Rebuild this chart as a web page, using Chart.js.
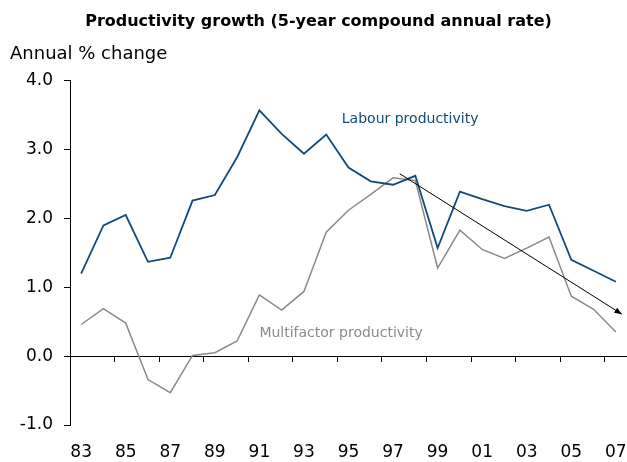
<!DOCTYPE html>
<html>
<head>
<meta charset="utf-8">
<script src="https://cdn.jsdelivr.net/npm/chart.js@4/dist/chart.umd.min.js"></script>
<style>
  html, body { margin: 0; padding: 0; background: #fff; }
  #wrap { width: 627px; height: 462px; }
</style>
</head>
<body>
<div id="wrap"><canvas id="c" width="627" height="462"></canvas></div>
<script>
const years = ['83','84','85','86','87','88','89','90','91','92','93','94','95','96','97','98','99','00','01','02','03','04','05','06','07'];
const labourProductivity = [1.20,1.90,2.05,1.37,1.43,2.26,2.34,2.89,3.57,3.23,2.94,3.22,2.74,2.54,2.49,2.62,1.57,2.39,2.28,2.18,2.11,2.20,1.40,1.24,1.08];
const multifactorProductivity = [0.46,0.69,0.48,-0.34,-0.53,0.01,0.05,0.22,0.89,0.67,0.94,1.80,2.12,2.35,2.59,2.55,1.28,1.83,1.55,1.42,1.57,1.73,0.87,0.68,0.35];
const yTicks = [-1, 0, 1, 2, 3, 4];
// annotation anchors in data units: [category index, value]
const arrowFrom = [14.3, 2.65];
const arrowTo = [24.27, 0.61];
const labourLabelAt = [11.7, 3.44];
const multiLabelAt = [8.0, 0.33];

const FONT = "'DejaVu Sans', Verdana, sans-serif";
const BLUE = '#134a7c';
const GREY = '#8a8a8a';

const annotations = {
  id: 'annotations',
  afterDatasetsDraw(chart) {
    const { ctx, scales } = chart;
    const x = scales.x, y = scales.y;
    ctx.save();
    const x1 = x.getPixelForValue(arrowFrom[0]), y1 = y.getPixelForValue(arrowFrom[1]);
    const x2 = x.getPixelForValue(arrowTo[0]), y2 = y.getPixelForValue(arrowTo[1]);
    ctx.strokeStyle = '#000';
    ctx.lineWidth = 1;
    ctx.beginPath();
    ctx.moveTo(x1, y1);
    ctx.lineTo(x2, y2);
    ctx.stroke();
    const ang = Math.atan2(y2 - y1, x2 - x1);
    const hl = 8, ha = 0.38;
    ctx.beginPath();
    ctx.moveTo(x2, y2);
    ctx.lineTo(x2 - hl * Math.cos(ang - ha), y2 - hl * Math.sin(ang - ha));
    ctx.lineTo(x2 - hl * Math.cos(ang + ha), y2 - hl * Math.sin(ang + ha));
    ctx.closePath();
    ctx.fillStyle = '#000';
    ctx.fill();
    ctx.font = '14px ' + FONT;
    ctx.textBaseline = 'middle';
    ctx.textAlign = 'left';
    ctx.fillStyle = BLUE;
    ctx.fillText('Labour productivity', x.getPixelForValue(labourLabelAt[0]), y.getPixelForValue(labourLabelAt[1]));
    ctx.fillStyle = GREY;
    ctx.fillText('Multifactor productivity', x.getPixelForValue(multiLabelAt[0]), y.getPixelForValue(multiLabelAt[1]));
    ctx.restore();
  }
};

new Chart(document.getElementById('c'), {
  type: 'line',
  data: {
    labels: years,
    datasets: [
      { label: 'Labour productivity', data: labourProductivity, borderColor: BLUE, borderWidth: 1.8, pointRadius: 0, tension: 0, fill: false },
      { label: 'Multifactor productivity', data: multifactorProductivity, borderColor: GREY, borderWidth: 1.5, pointRadius: 0, tension: 0, fill: false }
    ]
  },
  options: {
    responsive: false,
    animation: false,
    events: [],
    layout: { padding: { left: 10, right: 0, top: 10, bottom: 0 } },
    plugins: {
      legend: { display: false },
      tooltip: { enabled: false },
      title: {
        display: true,
        text: 'Productivity growth (5-year compound annual rate)',
        color: '#000',
        font: { family: FONT, size: 16, weight: 'bold' },
        padding: { top: 2, bottom: 12 }
      },
      subtitle: {
        display: true,
        text: 'Annual % change',
        align: 'start',
        color: '#000',
        font: { family: FONT, size: 18, weight: 'normal' },
        padding: { top: 0, bottom: 16 }
      }
    },
    scales: {
      x: {
        type: 'category',
        offset: true,
        border: { display: false },
        grid: { display: false, drawTicks: false },
        afterFit: (s) => { s.paddingLeft = 0; s.paddingRight = 0; s.height = 37; },
        ticks: {
          autoSkip: false,
          maxRotation: 0,
          padding: 17,
          color: '#000',
          font: { family: FONT, size: 17 },
          callback: function (v, i) { return i % 2 === 0 ? this.getLabelForValue(v) : ''; }
        }
      },
      x2: {
        type: 'category',
        labels: years,
        position: { y: 0 },
        offset: true,
        afterFit: (s) => { s.paddingLeft = 0; s.paddingRight = 0; s.height = 0; },
        border: { display: true, color: '#000', width: 1 },
        grid: {
          offset: true,
          drawOnChartArea: false,
          drawTicks: true,
          tickLength: 5,
          lineWidth: 1,
          color: (ctx) => (ctx.index % 2 === 0 ? '#000' : 'rgba(0,0,0,0)')
        },
        ticks: { display: false }
      },
      y: {
        min: -1,
        max: 4,
        afterBuildTicks: (scale) => { scale.ticks = yTicks.map(v => ({ value: v })); },
        afterFit: (s) => { s.width = 60; s.paddingTop = 0; s.paddingBottom = 0; },
        border: { display: true, color: '#000', width: 1 },
        grid: { drawOnChartArea: false, drawTicks: true, tickLength: 6, color: '#000' },
        ticks: {
          padding: 11,
          color: '#000',
          font: { family: FONT, size: 17 },
          callback: (v) => Number(v).toFixed(1)
        }
      }
    }
  },
  plugins: [annotations]
});
</script>
</body>
</html>
